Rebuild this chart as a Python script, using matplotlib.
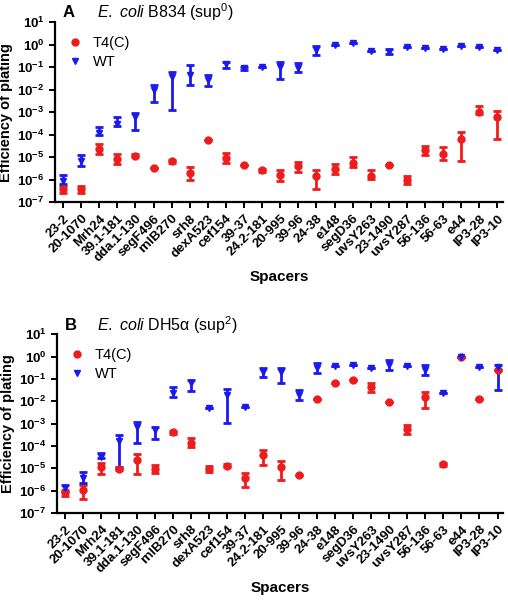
import matplotlib
matplotlib.use("Agg")
import matplotlib.pyplot as plt
from matplotlib.lines import Line2D
import numpy as np

plt.rcParams['font.family'] = ['Liberation Sans', 'DejaVu Sans']
plt.rcParams['mathtext.fontset'] = 'custom'
plt.rcParams['mathtext.rm'] = 'Liberation Sans'
plt.rcParams['mathtext.it'] = 'Liberation Sans:italic'
plt.rcParams['mathtext.bf'] = 'Liberation Sans:bold'

spacers = ['23-2', '20-1070', 'Mrh24', '39.1-181', 'dda.1-130', 'segF496', 'rnlB270',
           'srh8', 'dexA523', 'cef154', '39-37', '24.2-181', '20-995', '39-96', '24-38',
           'e148', 'segD36', 'uvsY263', '23-1490', 'uvsY287', '56-136', '56-63', 'e44',
           'IP3-28', 'IP3-10']

# Panel A: E. coli B834 (sup0) -- mean, lower, upper
a_wt = [8.5e-7, 6.6e-6, 1.2e-4, 3.1e-4, 5.9e-4, 1e-2, 3.8e-2, 4.5e-2, 2.7e-2, 1.35e-1,
        8.9e-2, 1.05e-1, 1.05e-1, 9.5e-2, 5.8e-1, 1.0, 1.15, 5.2e-1, 4.9e-1, 8.1e-1,
        7.2e-1, 6.2e-1, 8.9e-1, 7.8e-1, 5.8e-1]
a_wt_lo = [6.3e-7, 4e-6, 1.0e-4, 2.5e-4, 1.55e-4, 2.8e-3, 1.2e-3, 1.6e-2, 1.5e-2, 8.9e-2,
           7.5e-2, 1.05e-1, 2.9e-2, 6.3e-2, 3.5e-1, 1.0, 1.15, 5.2e-1, 3.7e-1, 8.1e-1,
           7.2e-1, 6.2e-1, 8.9e-1, 7.8e-1, 5.8e-1]
a_wt_hi = [1.6e-6, 1.3e-5, 2.1e-4, 6e-4, 9.1e-4, 1.6e-2, 6.3e-2, 1.2e-1, 4.5e-2, 1.66e-1,
           1.05e-1, 1.05e-1, 1.7e-1, 1.5e-1, 8.7e-1, 1.0, 1.15, 5.2e-1, 6.3e-1, 8.1e-1,
           7.2e-1, 6.2e-1, 8.9e-1, 7.8e-1, 5.8e-1]
a_t4 = [3.7e-7, 3.7e-7, 2.2e-5, 8.3e-6, 1.17e-5, 3.2e-6, 6.6e-6, 1.9e-6, 5.6e-5, 9.3e-6,
        4.3e-6, 2.6e-6, 1.7e-6, 4e-6, 1.4e-6, 3e-6, 5.6e-6, 1.4e-6, 4.4e-6, 9.5e-7,
        2.0e-5, 1.45e-5, 6.6e-5, 1.07e-3, 6e-4]
a_t4_lo = [2.5e-7, 2.5e-7, 1.45e-5, 5e-6, 1e-5, 3.2e-6, 5.5e-6, 1e-6, 5.6e-5, 5.6e-6,
           4.3e-6, 2.2e-6, 8.5e-7, 2.2e-6, 3.7e-7, 1.86e-6, 3.5e-6, 1.1e-6, 4.4e-6, 6.6e-7,
           1.26e-5, 7.2e-6, 7.1e-6, 8.3e-4, 6.6e-5]
a_t4_hi = [5.1e-7, 5.1e-7, 3.9e-5, 1.4e-5, 1.35e-5, 3.2e-6, 7.6e-6, 3.5e-6, 5.6e-5, 1.55e-5,
           4.3e-6, 3e-6, 2.8e-6, 6.2e-6, 2.6e-6, 5e-6, 1.02e-5, 2.6e-6, 4.4e-6, 1.4e-6,
           3.2e-5, 2.75e-5, 1.3e-4, 1.9e-3, 1.15e-3]

# Panel B: E. coli DH5a (sup2)
b_wt = [1.3e-6, 3.6e-6, 3.3e-5, 1.7e-4, 7.2e-4, 5.1e-4, 2.4e-2, 6.3e-2, 5.1e-3, 1.9e-2,
        5.6e-3, 2.1e-1, 2.1e-1, 1.9e-2, 2.95e-1, 3.9e-1, 4.2e-1, 3.2e-1, 4.2e-1, 3.7e-1,
        2.45e-1, 2.4e-2, 9.1e-1, 3.5e-1, 3.3e-1]
b_wt_lo = [8.3e-7, 2.3e-6, 2.8e-5, 1.2e-5, 1.3e-4, 2e-4, 1.5e-2, 2.95e-2, 5.1e-3, 1.1e-3,
           5.6e-3, 1.17e-1, 6.8e-2, 1.1e-2, 1.8e-1, 3.9e-1, 4.2e-1, 3.2e-1, 2.6e-1, 3.7e-1,
           1.5e-1, 2.4e-2, 9.1e-1, 3.5e-1, 3.2e-2]
b_wt_hi = [1.8e-6, 7.1e-6, 4.7e-5, 3.1e-4, 1.2e-3, 7.2e-4, 4.2e-2, 8.9e-2, 5.1e-3, 3.4e-2,
           5.6e-3, 2.95e-1, 3.2e-1, 3.2e-2, 4.9e-1, 3.9e-1, 4.2e-1, 3.2e-1, 6.9e-1, 3.7e-1,
           4.2e-1, 2.4e-2, 9.1e-1, 3.5e-1, 4.2e-1]
b_t4 = [8.3e-7, 1.1e-6, 1.2e-5, 9.1e-6, 2.3e-5, 9.1e-6, 4e-4, 1.3e-4, 9.1e-6, 1.3e-5,
        3.6e-6, 4e-5, 1.2e-5, 5.1e-6, 1.2e-2, 6.3e-2, 8.9e-2, 4.2e-2, 9.5e-3, 5.6e-4,
        1.6e-2, 1.5e-5, 9.1e-1, 1.2e-2, 2.45e-1]
b_t4_lo = [6e-7, 4.2e-7, 5.6e-6, 8e-6, 5.5e-6, 6e-6, 3.6e-4, 9.3e-5, 7e-6, 1.1e-5,
           1.5e-6, 1.4e-5, 3e-6, 5.1e-6, 1.2e-2, 6.3e-2, 8.9e-2, 2.6e-2, 9.5e-3, 3.3e-4,
           4.8e-3, 1.3e-5, 9.1e-1, 1.2e-2, 2.45e-1]
b_t4_hi = [1.1e-6, 1.8e-6, 1.7e-5, 1.05e-5, 4.3e-5, 1.4e-5, 4.5e-4, 2.3e-4, 1.3e-5, 1.6e-5,
           6e-6, 6.6e-5, 2.2e-5, 5.1e-6, 1.2e-2, 6.3e-2, 8.9e-2, 6.3e-2, 9.5e-3, 8.7e-4,
           2.6e-2, 1.7e-5, 9.1e-1, 1.2e-2, 2.45e-1]

red = '#ee1c1c'
blue = '#1a1aee'


def panel(ax, t4, t4_lo, t4_hi, wt, wt_lo, wt_hi):
    x = np.arange(len(spacers))
    t4 = np.array(t4); wt = np.array(wt)
    ax.errorbar(x, t4, yerr=[t4 - np.array(t4_lo), np.array(t4_hi) - t4], fmt='o',
                color=red, ms=5, elinewidth=2, capsize=3, capthick=2)
    ax.errorbar(x, wt, yerr=[wt - np.array(wt_lo), np.array(wt_hi) - wt], fmt='v',
                color=blue, ms=5, elinewidth=2, capsize=3, capthick=2)
    ax.set_yscale('log')
    ax.set_ylim(1e-7, 10)
    ticks = [10.0 ** k for k in range(-7, 2)]
    ax.set_yticks(ticks)
    ax.set_yticklabels([r'$\mathbf{10^{%d}}$' % k for k in range(-7, 2)], fontsize=9.5)
    ax.minorticks_off()
    ax.set_xlim(-0.45, len(spacers) - 0.7)
    ax.set_xticks(x)
    ax.set_xticklabels(spacers, rotation=45, ha='right', rotation_mode='anchor',
                       fontsize=9.5, fontweight='bold')
    for s in ['top', 'right']:
        ax.spines[s].set_visible(False)
    for s in ['left', 'bottom']:
        ax.spines[s].set_linewidth(1.6)
    ax.tick_params(width=1.4, length=4)
    ax.set_ylabel('Efficiency of plating', fontsize=10.5, fontweight='bold', labelpad=3)
    ax.set_xlabel('Spacers', fontsize=11, fontweight='bold', labelpad=4)
    handles = [Line2D([], [], ls='none', marker='o', ms=5, color=red),
               Line2D([], [], ls='none', marker='v', ms=5, color=blue)]
    ax.legend(handles, ['T4(C)', 'WT'], loc='upper left', frameon=False, fontsize=10.5,
              handletextpad=0.5, borderaxespad=0.2, bbox_to_anchor=(0.0, 0.97),
              handlelength=1.5, labelspacing=0.3)


fig = plt.figure(figsize=(5.08, 6.0), dpi=100)
ax1 = fig.add_axes([0.108, 0.663, 0.882, 0.300])
ax2 = fig.add_axes([0.112, 0.145, 0.878, 0.298])
panel(ax1, a_t4, a_t4_lo, a_t4_hi, a_wt, a_wt_lo, a_wt_hi)
panel(ax2, b_t4, b_t4_lo, b_t4_hi, b_wt, b_wt_lo, b_wt_hi)

fig.text(0.123, 0.979, 'A', fontsize=12, fontweight='bold', va='center')
fig.text(0.19, 0.979, r'$\mathit{E.\ coli}$ B834 (sup$^0$)', fontsize=11.5, va='center')
fig.text(0.127, 0.458, 'B', fontsize=12, fontweight='bold', va='center')
fig.text(0.19, 0.458, r'$\mathit{E.\ coli}$ DH5α (sup$^2$)', fontsize=11.5, va='center')

fig.savefig('out.png', dpi=100)
